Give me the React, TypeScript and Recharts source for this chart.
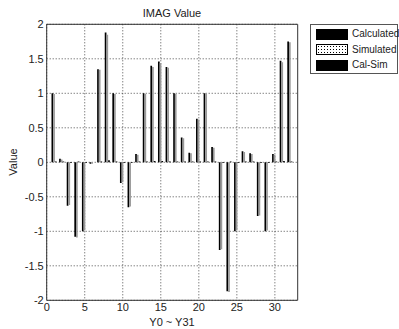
import React from 'react';
import { ComposedChart, Bar, XAxis, YAxis, CartesianGrid, ReferenceArea, Label } from 'recharts';

// Group positions (MATLAB bar places Y0..Y31 at x = 1..32)
const positions = [1, 2, 3, 4, 5, 6, 7, 8, 9, 10, 11, 12, 13, 14, 15, 16, 17, 18, 19, 20, 21, 22, 23, 24, 25, 26, 27, 28, 29, 30, 31, 32];
const names = ['Y0', 'Y1', 'Y2', 'Y3', 'Y4', 'Y5', 'Y6', 'Y7', 'Y8', 'Y9', 'Y10', 'Y11', 'Y12', 'Y13', 'Y14', 'Y15', 'Y16', 'Y17', 'Y18', 'Y19', 'Y20', 'Y21', 'Y22', 'Y23', 'Y24', 'Y25', 'Y26', 'Y27', 'Y28', 'Y29', 'Y30', 'Y31'];
const calculated = [1.0, 0.05, -0.63, -1.08, -1.0, -0.02, 1.35, 1.88, 1.0, -0.3, -0.65, 0.12, 1.0, 1.4, 1.46, 1.38, 1.0, 0.36, 0.14, 0.63, 1.0, 0.22, -1.27, -1.87, -1.0, 0.16, 0.13, -0.78, -1.0, 0.12, 1.47, 1.75];
const simulated = [0.99, 0.04, -0.62, -1.09, -0.99, -0.02, 1.34, 1.85, 0.99, -0.29, -0.64, 0.11, 0.99, 1.38, 1.44, 1.37, 0.99, 0.35, 0.13, 0.62, 0.99, 0.21, -1.26, -1.88, -0.99, 0.15, 0.12, -0.77, -0.99, 0.11, 1.45, 1.74];
const calSim = [0.01, 0.01, -0.01, 0.01, -0.01, 0.0, 0.01, 0.03, 0.01, -0.01, -0.01, 0.01, 0.01, 0.02, 0.02, 0.01, 0.01, 0.01, 0.01, 0.01, 0.01, 0.01, -0.01, 0.01, -0.01, 0.01, 0.01, -0.01, -0.01, 0.01, 0.02, 0.01];
const xTicks = [0, 5, 10, 15, 20, 25, 30];
const yTicks = [-2, -1.5, -1, -0.5, 0, 0.5, 1, 1.5, 2];
const legendItems = ['Calculated', 'Simulated', 'Cal-Sim'];

const data = positions.map((x, i) => ({
  x,
  name: names[i],
  calculated: calculated[i],
  simulated: simulated[i],
  calSim: calSim[i],
}));

const FONT = '"Liberation Sans", Arial, sans-serif';
const hatch = {
  backgroundColor: '#fff',
  backgroundImage: 'radial-gradient(#000 0.7px, transparent 0.9px)',
  backgroundSize: '3px 3px',
};

export default function App() {
  return (
    <div style={{ position: 'absolute', left: 0, top: 0, width: 399, height: 329, background: '#fff', fontFamily: FONT }}>
      <ComposedChart
        width={399}
        height={329}
        data={data}
        margin={{ top: 24.3, right: 101.3, bottom: 0, left: 0 }}
        barGap={0}
        barCategoryGap={0}
      >
        <CartesianGrid stroke="#222" strokeDasharray="1 2" strokeWidth={0.8} horizontalValues={yTicks} verticalValues={xTicks} />
        <XAxis
          type="number"
          dataKey="x"
          domain={[0, 33]}
          ticks={xTicks}
          allowDataOverflow
          height={28.7}
          tickSize={0}
          tickMargin={3}
          axisLine={false}
          tick={{ fill: '#222', fontSize: 11, fontFamily: FONT }}
        >
          <Label
            content={() => (
              <text x={172} y={326} textAnchor="middle" fontSize={11} fontFamily={FONT} fill="#222">
                Y0 ~ Y31
              </text>
            )}
          />
          <Label
            content={() => (
              <text x={172} y={17} textAnchor="middle" fontSize={11} fontFamily={FONT} fill="#222">
                IMAG Value
              </text>
            )}
          />
        </XAxis>
        <YAxis
          type="number"
          domain={[-2, 2]}
          ticks={yTicks}
          width={46.7}
          tickSize={0}
          tickMargin={3}
          axisLine={false}
          tick={{ fill: '#222', fontSize: 11, fontFamily: FONT }}
        >
          <Label
            content={() => (
              <text x={17} y={162} textAnchor="middle" fontSize={11} fontFamily={FONT} fill="#222" transform="rotate(-90 17 162)">
                Value
              </text>
            )}
          />
        </YAxis>
        <Bar dataKey="calculated" barSize={1.7} fill="#000" isAnimationActive={false} />
        <Bar dataKey="simulated" barSize={1.7} fill="#999" isAnimationActive={false} />
        <Bar dataKey="calSim" barSize={1.7} fill="#000" isAnimationActive={false} />
        <ReferenceArea x1={0} x2={33} y1={-2} y2={2} fill="none" stroke="#333" strokeWidth={1} ifOverflow="visible" />
      </ComposedChart>
      <div
        style={{
          position: 'absolute',
          left: 310,
          top: 24,
          width: 88,
          height: 50,
          border: '1px solid #555',
          boxSizing: 'border-box',
          background: '#fff',
        }}
      >
        {legendItems.map((label, i) => (
          <div key={label} style={{ position: 'absolute', left: 5, top: 3 + i * 15.5, height: 12, display: 'flex', alignItems: 'center' }}>
            <div
              style={{
                width: 32,
                height: 11,
                boxSizing: 'border-box',
                border: '1px solid #000',
                ...(i === 1 ? hatch : { background: '#000' }),
              }}
            />
            <span style={{ marginLeft: 4, fontSize: 10, color: '#222', whiteSpace: 'nowrap', lineHeight: '12px' }}>{label}</span>
          </div>
        ))}
      </div>
    </div>
  );
}
